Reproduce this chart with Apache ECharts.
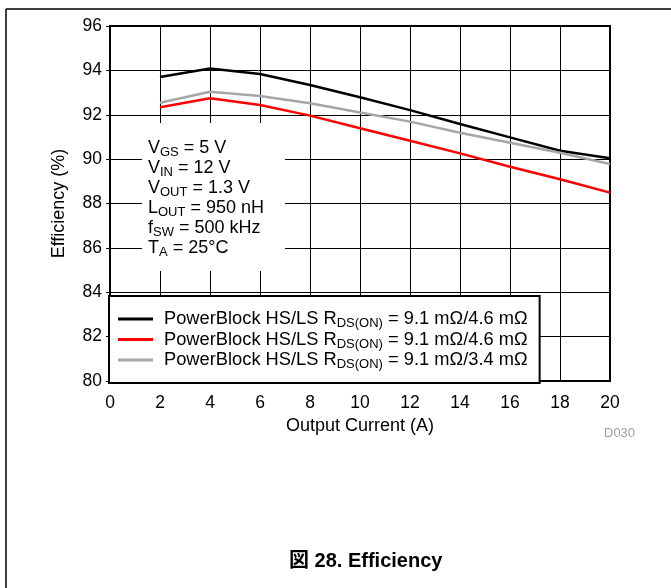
<!DOCTYPE html>
<html><head><meta charset="utf-8">
<script src="https://cdn.jsdelivr.net/npm/echarts@6/dist/echarts.min.js"></script>
<style>html,body{margin:0;padding:0;background:#fff}#c{width:671px;height:588px}</style>
</head><body><div id="c"></div>
<script>
const xValues = [2, 4, 6, 8, 10, 12, 14, 16, 18, 20];
const blackSeries = [93.70, 94.08, 93.84, 93.34, 92.79, 92.21, 91.58, 90.98, 90.38, 90.04];
const redSeries   = [92.34, 92.74, 92.44, 91.96, 91.39, 90.83, 90.26, 89.66, 89.09, 88.49];
const graySeries  = [92.54, 93.04, 92.85, 92.52, 92.10, 91.69, 91.19, 90.74, 90.29, 89.78];
const legendLabels = [
  '{t|PowerBlock HS/LS R}{s|DS(ON)}{t| = 9.1 mΩ/4.6 mΩ}',
  '{t|PowerBlock HS/LS R}{s|DS(ON)}{t| = 9.1 mΩ/4.6 mΩ}',
  '{t|PowerBlock HS/LS R}{s|DS(ON)}{t| = 9.1 mΩ/3.4 mΩ}'
];
const conditions = [
  '{t|V}{s|GS}{t| = 5 V}',
  '{t|V}{s|IN}{t| = 12 V}',
  '{t|V}{s|OUT}{t| = 1.3 V}',
  '{t|L}{s|OUT}{t| = 950 nH}',
  '{t|f}{s|SW}{t| = 500 kHz}',
  '{t|T}{s|A}{t| = 25°C}'
];
const FONT = '"Liberation Sans", Arial, sans-serif';
const names = ['s1','s2','s3'];
const colors = ['#000000','#ff0000','#a6a6a6'];
const datas = [blackSeries, redSeries, graySeries];
const chart = echarts.init(document.getElementById('c'), null, {renderer:'canvas'});
const richLegend = {
  t:{fontSize:18.3, fontFamily:FONT, color:'#000', lineHeight:20},
  s:{fontSize:13, fontFamily:FONT, color:'#000', lineHeight:20, padding:[9,0,0,0]}
};
const richCond = {
  t:{fontSize:18, fontFamily:FONT, color:'#000', lineHeight:20},
  s:{fontSize:13, fontFamily:FONT, color:'#000', lineHeight:20, padding:[9,0,0,0]}
};
chart.setOption({
  animation:false,
  backgroundColor:'#fff',
  grid:{left:110, top:26, width:500, height:355, show:true, borderColor:'#000', borderWidth:2, backgroundColor:'transparent'},
  xAxis:{type:'value', min:0, max:20, interval:2,
    name:'Output Current (A)', nameLocation:'middle', nameGap:33,
    nameTextStyle:{fontSize:18, fontFamily:FONT, color:'#000'},
    axisLine:{lineStyle:{color:'#000', width:2}},
    axisTick:{show:false},
    axisLabel:{fontSize:17.5, fontFamily:FONT, color:'#000', margin:13},
    splitLine:{show:true, lineStyle:{color:'#000', width:1}}},
  yAxis:{type:'value', min:80, max:96, interval:2,
    name:'Efficiency (%)', nameLocation:'middle', nameGap:42,
    nameTextStyle:{fontSize:18, fontFamily:FONT, color:'#000'},
    axisLine:{lineStyle:{color:'#000', width:2}},
    axisTick:{show:true, length:4, lineStyle:{color:'#000'}},
    axisLabel:{fontSize:17.5, fontFamily:FONT, color:'#000', margin:8},
    splitLine:{show:true, lineStyle:{color:'#000', width:1}}},
  legend:{orient:'vertical', left:109, top:296, width:450,
    backgroundColor:'#fff', borderColor:'#000', borderWidth:2,
    padding:[12,12,12,9], itemGap:-1.5, itemWidth:35, itemHeight:3, icon:'rect',
    data:names,
    formatter:function(n){return legendLabels[names.indexOf(n)];},
    textStyle:{rich:richLegend, fontFamily:FONT, fontSize:18, padding:[0,0,0,6]}},
  graphic:[
    {type:'line', shape:{x1:6,y1:9,x2:671,y2:9}, style:{stroke:'#000', lineWidth:1.5}, z:100},
    {type:'line', shape:{x1:6,y1:9,x2:6,y2:588}, style:{stroke:'#000', lineWidth:1.5}, z:100},
    {type:'rect', shape:{x:142, y:123, width:143, height:148}, style:{fill:'#fff'}, z:1},
    {type:'text', left:148, top:137, z:2,
      style:{text:conditions.join('\n'), rich:richCond, font:'18px '+FONT, fill:'#000'}},
    {type:'text', left:604, top:427, z:2,
      style:{text:'D030', font:'13px '+FONT, fill:'#a0a0a0'}},
    {type:'text', left:289, top:551, z:2,
      style:{text:'図 28. Efficiency', font:'bold 20px "Liberation Sans", "Noto Sans CJK JP", sans-serif', fill:'#000'}}
  ],
  series: names.map((n,i)=>({
    name:n, type:'line', symbol:'none', z:3,
    lineStyle:{color:colors[i], width:2.5},
    itemStyle:{color:colors[i]},
    data:xValues.map((x,j)=>[x, datas[i][j]])
  }))
});
</script></body></html>
